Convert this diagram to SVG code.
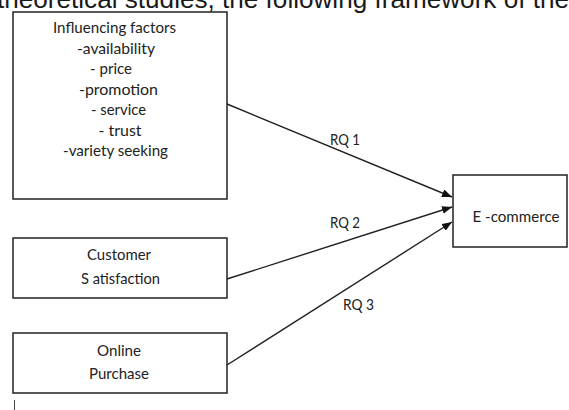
<svg xmlns="http://www.w3.org/2000/svg" width="569" height="410" viewBox="0 0 569 410">
  <style>
    .box { fill: #ffffff; stroke: #222222; stroke-width: 1.5; }
    .lbl { font-family: Lato, "Liberation Sans", sans-serif; font-size: 15px; fill: #222222; text-anchor: middle; }
    .rq { font-family: Lato, "Liberation Sans", sans-serif; font-size: 15px; fill: #222222; }
    .edge { stroke: #222222; stroke-width: 1.4; fill: none; marker-end: url(#arrow); }
    .body { font-family: "Liberation Sans", Arial, sans-serif; font-size: 26px; fill: #1a1a1a; }
  </style>
  <defs>
    <marker id="arrow" viewBox="0 0 10 8" refX="10" refY="4" markerWidth="10" markerHeight="8" markerUnits="userSpaceOnUse" orient="auto">
      <path d="M0,0 L10,4 L0,8 Z" fill="#111111"/>
    </marker>
  </defs>
  <rect width="569" height="410" fill="#ffffff"/>

  <!-- running text line above the figure -->
  <text class="body" x="-3" y="7.5" textLength="572" lengthAdjust="spacingAndGlyphs">theoretical studies, the following framework of the</text>

  <g id="factors">
    <rect class="box" x="13" y="12" width="214" height="187"/>
    <text class="lbl" x="114.5" y="33" textLength="123" lengthAdjust="spacingAndGlyphs">Influencing factors</text>
    <text class="lbl" x="116" y="53.5" textLength="78" lengthAdjust="spacingAndGlyphs">-availability</text>
    <text class="lbl" x="111" y="74" textLength="42" lengthAdjust="spacingAndGlyphs">- price</text>
    <text class="lbl" x="118.5" y="94.5" textLength="79" lengthAdjust="spacingAndGlyphs">-promotion</text>
    <text class="lbl" x="118.5" y="115" textLength="55" lengthAdjust="spacingAndGlyphs">- service</text>
    <text class="lbl" x="120" y="135.5" textLength="43" lengthAdjust="spacingAndGlyphs">- trust</text>
    <text class="lbl" x="115.5" y="156" textLength="105" lengthAdjust="spacingAndGlyphs">-variety seeking</text>
  </g>

  <g id="satisfaction">
    <rect class="box" x="13" y="238" width="214" height="60"/>
    <text class="lbl" x="119" y="260" textLength="64" lengthAdjust="spacingAndGlyphs">Customer</text>
    <text class="lbl" x="120.5" y="284" textLength="79" lengthAdjust="spacingAndGlyphs">S atisfaction</text>
  </g>

  <g id="purchase">
    <rect class="box" x="13" y="333" width="214" height="60"/>
    <text class="lbl" x="119" y="355.5" textLength="44" lengthAdjust="spacingAndGlyphs">Online</text>
    <text class="lbl" x="119" y="379" textLength="60" lengthAdjust="spacingAndGlyphs">Purchase</text>
  </g>

  <g id="ecommerce">
    <rect class="box" x="453" y="175" width="114" height="72"/>
    <text class="lbl" x="516" y="221.5" textLength="87" lengthAdjust="spacingAndGlyphs">E -commerce</text>
  </g>

  <!-- a stray cursor mark under the last box -->
  <line x1="14.5" y1="400" x2="14.5" y2="410" stroke="#444444" stroke-width="1"/>

  <g id="connectors">
    <line class="edge" x1="227" y1="104" x2="452" y2="197"/>
    <line class="edge" x1="227" y1="279" x2="452" y2="207"/>
    <line class="edge" x1="227" y1="365" x2="452" y2="222"/>
    <text class="rq" x="330" y="145" textLength="30" lengthAdjust="spacingAndGlyphs">RQ 1</text>
    <text class="rq" x="330" y="228" textLength="30" lengthAdjust="spacingAndGlyphs">RQ 2</text>
    <text class="rq" x="343" y="310" textLength="31" lengthAdjust="spacingAndGlyphs">RQ 3</text>
  </g>
</svg>
